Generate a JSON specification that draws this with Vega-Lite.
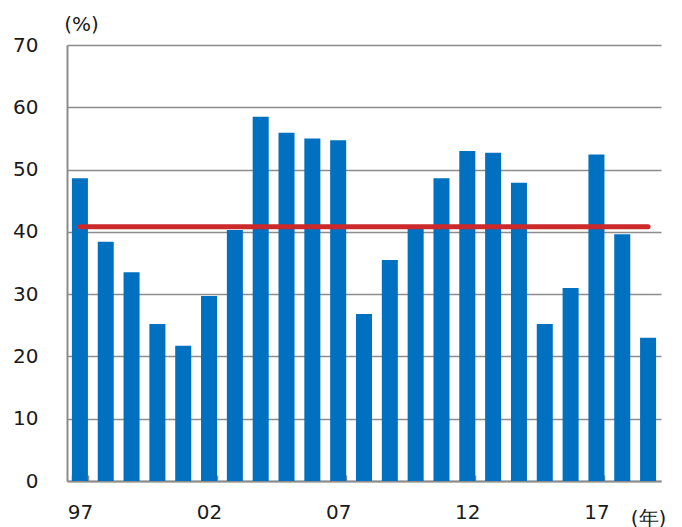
{
  "$schema": "https://vega.github.io/schema/vega-lite/v6.json",
  "autosize": "none",
  "width": 594,
  "height": 436,
  "padding": {"left": 67, "top": 45, "right": 21, "bottom": 46},
  "background": "white",
  "config": {
    "view": {"stroke": null},
    "font": "DejaVu Sans",
    "axis": {"labelFont": "DejaVu Sans", "titleFont": "DejaVu Sans", "labelColor": "#1a1a1a", "titleColor": "#1a1a1a"}
  },
  "datasets": {
    "rate": [
      {"year": "1997", "value": 48.6},
      {"year": "1998", "value": 38.4},
      {"year": "1999", "value": 33.5},
      {"year": "2000", "value": 25.2},
      {"year": "2001", "value": 21.7},
      {"year": "2002", "value": 29.7},
      {"year": "2003", "value": 40.3},
      {"year": "2004", "value": 58.5},
      {"year": "2005", "value": 55.9},
      {"year": "2006", "value": 55.0},
      {"year": "2007", "value": 54.7},
      {"year": "2008", "value": 26.8},
      {"year": "2009", "value": 35.5},
      {"year": "2010", "value": 40.6},
      {"year": "2011", "value": 48.6},
      {"year": "2012", "value": 53.0},
      {"year": "2013", "value": 52.7},
      {"year": "2014", "value": 47.9},
      {"year": "2015", "value": 25.2},
      {"year": "2016", "value": 31.0},
      {"year": "2017", "value": 52.4},
      {"year": "2018", "value": 39.6},
      {"year": "2019", "value": 23.0}
    ],
    "average": [
      {"year": "1997", "value": 40.8},
      {"year": "2019", "value": 40.8}
    ]
  },
  "layer": [
    {
      "data": {"name": "rate"},
      "mark": {"type": "bar", "color": "#0070C0"},
      "encoding": {
        "x": {
          "field": "year", "type": "ordinal",
          "scale": {"paddingInner": 0.38, "paddingOuter": 0.19},
          "axis": {
            "values": ["1997", "2002", "2007", "2012", "2017"],
            "labelExpr": "datum.value ? substring(datum.value, 2) : ''",
            "labelAngle": 0,
            "labelFontSize": 20,
            "labelPadding": 27,
            "tickBand": "extent",
            "tickSize": -6,
            "tickColor": "#8c8c8c",
            "tickWidth": 1.5,
            "domainColor": "#8c8c8c",
            "domainWidth": 2,
            "title": "(年)",
            "titleFontSize": 20,
            "titleFontWeight": "normal",
            "titleAnchor": null,
            "titleX": 581,
            "titleY": 27,
            "titleAlign": "center",
            "titleBaseline": "top",
            "grid": false
          }
        },
        "y": {
          "field": "value", "type": "quantitative",
          "scale": {"domain": [0, 70], "nice": false},
          "axis": {
            "values": [0, 10, 20, 30, 40, 50, 60, 70],
            "labelFontSize": 20,
            "labelPadding": 29,
            "tickSize": 0,
            "domainColor": "#8c8c8c",
            "domainWidth": 2,
            "gridColor": "#8c8c8c",
            "gridWidth": 1.5,
            "gridOpacity": 1,
            "title": "(%)",
            "titleFontSize": 20,
            "titleFontWeight": "normal",
            "titleAngle": 0,
            "titleAnchor": null,
            "titleX": 14,
            "titleY": -21,
            "titleAlign": "center",
            "titleBaseline": "middle"
          }
        }
      }
    },
    {
      "data": {"name": "average"},
      "mark": {"type": "line", "color": "#CC2A2A", "strokeWidth": 5, "strokeCap": "round"},
      "encoding": {
        "x": {"field": "year", "type": "ordinal"},
        "y": {"field": "value", "type": "quantitative"}
      }
    }
  ]
}
